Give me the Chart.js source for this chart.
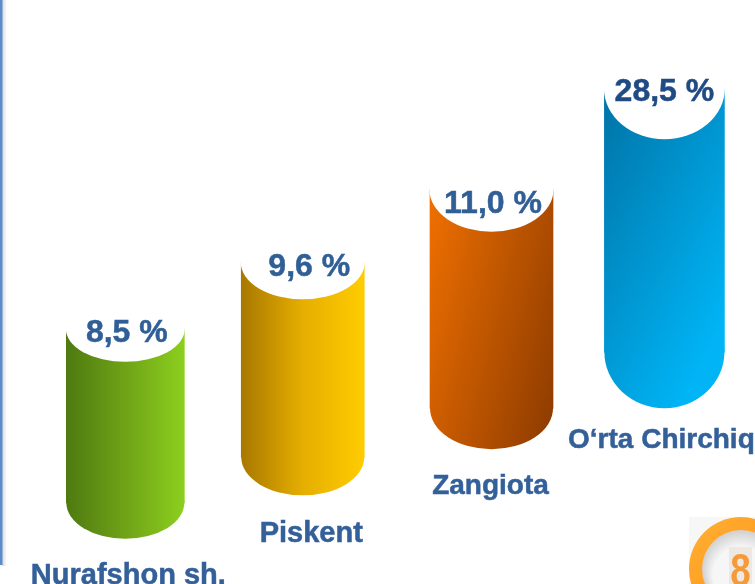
<!DOCTYPE html>
<html>
<head>
<meta charset="utf-8">
<style>
  html, body { margin: 0; padding: 0; background: #fff; overflow: hidden; }
  canvas { display: block; }
</style>
<script src="https://cdn.jsdelivr.net/npm/chart.js@4"></script>
</head>
<body>
<canvas id="myChart" width="755" height="584"></canvas>
<script>
/*==== data ====*/
const categories = ['Nurafshon sh.', 'Piskent', 'Zangiota', 'O‘rta Chirchiq'];
const shareLabels = ['8,5 %', '9,6 %', '11,0 %', '28,5 %'];
// cylinders float, so each one has a place on the x axis and a low/high on the y axis (0-100)
const places = [16.6, 40.1, 65.1, 88.0];
const lows = [13.9, 21.7, 30.1, 39.7];
const highs = [43.7, 55.1, 67.5, 84.9];

/*==== looks ====*/
const barWidths = [118, 123, 123, 120];
const topCurve = [33, 37, 42, 51];
const bottomCurve = [36, 38, 41, 56];
const gradientEnds = [[118, 0], [123, 0], [179, 46], [190, 100]];
const gradientColors = [
    ['#4E7A10', '#6FA317', '#8CCF1E'],
    ['#A87800', '#E6AE00', '#FFCC00'],
    ['#F07000', '#8B3A00'],
    ['#0073A6', '#00B4F5']
];
const shareColors = ['#2F5F96', '#2F5F96', '#2F5F96', '#1F4A84'];
const shareOffsets = [[1.5, 13], [6.5, 14], [1.5, 23], [0, 13]];
const nameOffsets = [[3, 584], [8.5, 542], [-1, 494], [-3, 448]];

function barGradient(chart, i) {
    const left = chart.scales.x.getPixelForValue(places[i]) - barWidths[i] / 2;
    const top = chart.scales.y.getPixelForValue(highs[i]);
    const colors = gradientColors[i];
    // scales have no pixels yet on the first pass
    if (!isFinite(left) || !isFinite(top)) return colors[colors.length - 1];
    const g = chart.ctx.createLinearGradient(left, top, left + gradientEnds[i][0], top + gradientEnds[i][1]);
    colors.forEach(function (c, k) {
        g.addColorStop(k / (colors.length - 1), c);
    });
    return g;
}

function heavyText(ctx, text, x, y) {
    ctx.lineWidth = 0.5;
    ctx.strokeStyle = ctx.fillStyle;
    ctx.strokeText(text, x, y);
    ctx.fillText(text, x, y);
}

/*==== cylinder ends and texts ====*/
const cylinderPlugin = {
    id: 'cylinder',
    beforeDraw(chart) {
        const ctx = chart.ctx;
        // left rule of the slide
        const shadow = ctx.createLinearGradient(2, 0, 7, 0);
        shadow.addColorStop(0, '#d8d8d8');
        shadow.addColorStop(1, '#ffffff');
        ctx.fillStyle = shadow;
        ctx.fillRect(2, 0, 5, 566);
        ctx.fillStyle = '#5B8CC8';
        ctx.fillRect(0, 0, 2.5, 565);
    },
    afterDatasetsDraw(chart) {
        const ctx = chart.ctx;
        categories.forEach(function (name, i) {
            const el = chart.getDatasetMeta(i).data[0];
            const rx = barWidths[i] / 2;
            ctx.save();
            // round bottom
            ctx.fillStyle = barGradient(chart, i);
            ctx.beginPath();
            ctx.ellipse(el.x, el.base, rx, bottomCurve[i], 0, 0, Math.PI * 2);
            ctx.fill();
            // hollow top
            ctx.fillStyle = '#ffffff';
            ctx.beginPath();
            ctx.ellipse(el.x, el.y, rx + 0.5, topCurve[i], 0, 0, Math.PI * 2);
            ctx.fill();
            // texts
            ctx.textAlign = 'center';
            ctx.textBaseline = 'alphabetic';
            ctx.font = 'bold 32px "Liberation Sans", Arial, sans-serif';
            ctx.fillStyle = shareColors[i];
            heavyText(ctx, shareLabels[i], el.x + shareOffsets[i][0], el.y + shareOffsets[i][1]);
            ctx.font = 'bold ' + (i < 2 ? 29 : 28) + 'px "Liberation Sans", Arial, sans-serif';
            ctx.fillStyle = '#34609A';
            heavyText(ctx, name, el.x + nameOffsets[i][0], nameOffsets[i][1]);
            ctx.restore();
        });
    },
    afterDraw(chart) {
        // page badge in the corner
        const ctx = chart.ctx;
        ctx.save();
        ctx.fillStyle = '#F7F7F7';
        ctx.fillRect(689, 517, 66, 67);
        const ring = ctx.createLinearGradient(690, 517, 755, 584);
        ring.addColorStop(0, '#FFAF33');
        ring.addColorStop(1, '#FF9A1E');
        ctx.fillStyle = ring;
        ctx.beginPath();
        ctx.arc(741, 569, 52, 0, Math.PI * 2);
        ctx.fill();
        const plate = ctx.createRadialGradient(741, 575, 28, 741, 569, 39);
        plate.addColorStop(0, '#F6F6F6');
        plate.addColorStop(1, '#D0D0D0');
        ctx.fillStyle = plate;
        ctx.beginPath();
        ctx.arc(741, 569, 39, 0, Math.PI * 2);
        ctx.fill();
        ctx.fillStyle = '#EEE8E2';
        ctx.fillRect(729, 547, 23, 37);
        ctx.fillStyle = '#F59A3A';
        ctx.font = 'bold 46px "Liberation Sans", sans-serif';
        ctx.textAlign = 'center';
        ctx.translate(740.5, 586);
        ctx.scale(0.8, 1);
        ctx.fillText('8', 0, 0);
        ctx.restore();
    }
};

/*==== one dataset per cylinder, each has its own thickness ====*/
const datasets = categories.map(function (name, i) {
    return {
        label: name,
        data: [{ x: places[i], y: [lows[i], highs[i]] }],
        barThickness: barWidths[i],
        grouped: false,
        borderWidth: 0,
        backgroundColor: function (c) {
            return barGradient(c.chart, i);
        }
    };
});

/*=== config ====*/
const config = {
    type: 'bar',
    data: { datasets: datasets },
    options: {
        responsive: false,
        animation: false,
        layout: { padding: 0 },
        plugins: {
            legend: { display: false },
            tooltip: { enabled: false }
        },
        scales: {
            x: { type: 'linear', min: 0, max: 100, offset: false, display: false },
            y: { min: 0, max: 100, display: false }
        }
    },
    plugins: [cylinderPlugin]
};

/*===== render graphic =====*/
new Chart(document.getElementById('myChart'), config);
</script>
</body>
</html>
